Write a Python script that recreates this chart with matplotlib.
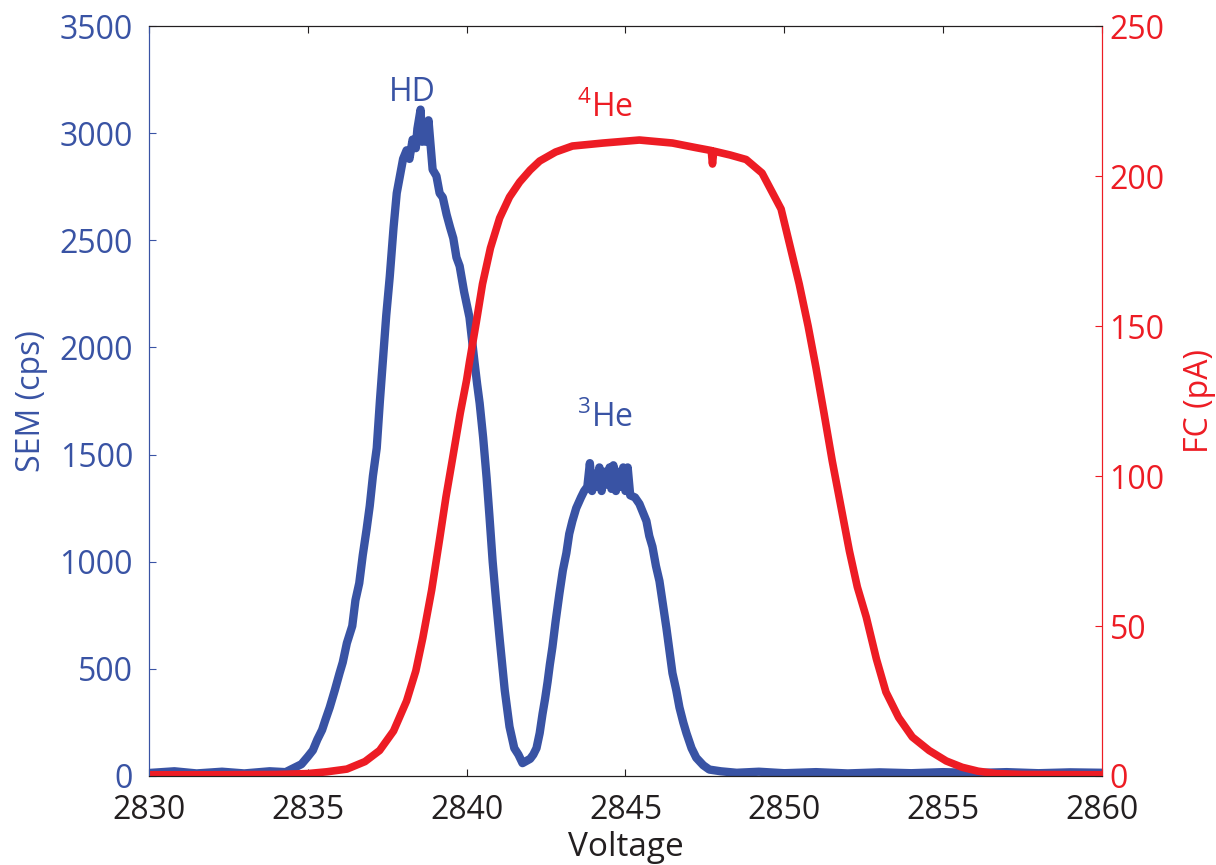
import matplotlib
matplotlib.use("Agg")
import matplotlib.pyplot as plt
import numpy as np

plt.rcParams["font.family"] = ["Open Sans", "DejaVu Sans"]
plt.rcParams["mathtext.fontset"] = "custom"
plt.rcParams["mathtext.rm"] = "Open Sans"

BLUE = "#3953a4"
RED = "#ed1c24"
DARK = "#231f20"

# SEM trace (voltage, counts per second)
sem_volt = [2830.0, 2830.8, 2831.5, 2832.3, 2833.0, 2833.8, 2834.3, 2834.6, 2834.8, 2835.0,
            2835.16, 2835.3, 2835.45, 2835.55, 2835.69, 2835.85, 2836.0, 2836.1, 2836.23, 2836.4,
            2836.5, 2836.62, 2836.73, 2836.85, 2836.95, 2837.05, 2837.17, 2837.27, 2837.36, 2837.47,
            2837.58, 2837.7, 2837.8, 2837.9, 2838.0, 2838.11, 2838.2, 2838.3, 2838.4, 2838.45,
            2838.55, 2838.6, 2838.66, 2838.72, 2838.8, 2838.93, 2839.05, 2839.15, 2839.25, 2839.37,
            2839.48, 2839.58, 2839.68, 2839.78, 2839.92, 2840.09, 2840.18, 2840.25, 2840.33, 2840.41,
            2840.52, 2840.63, 2840.72, 2840.82, 2840.92, 2841.04, 2841.2, 2841.35, 2841.5, 2841.63,
            2841.76, 2841.88, 2842.0, 2842.1, 2842.2, 2842.3, 2842.39, 2842.47, 2842.55, 2842.62,
            2842.7, 2842.8, 2842.92, 2843.03, 2843.14, 2843.23, 2843.33, 2843.45, 2843.6, 2843.7,
            2843.8, 2843.88, 2843.95, 2844.03, 2844.1, 2844.18, 2844.25, 2844.33, 2844.4, 2844.5,
            2844.56, 2844.62, 2844.7, 2844.78, 2844.85, 2844.93, 2845.0, 2845.07, 2845.15, 2845.3,
            2845.44, 2845.55, 2845.66, 2845.75, 2845.85, 2845.96, 2846.07, 2846.18, 2846.29, 2846.38,
            2846.48, 2846.6, 2846.7, 2846.82, 2846.92, 2847.08, 2847.23, 2847.45, 2847.64, 2848.0,
            2848.5, 2849.2, 2850.0, 2851.0, 2852.0, 2853.0, 2854.0, 2855.0, 2856.0, 2857.0,
            2858.0, 2859.0, 2860.0]
sem_cps = [14, 22, 12, 20, 12, 22, 18, 40, 55, 90,
           120, 170, 215, 260, 320, 400, 480, 530, 620, 700,
           820, 900, 1030, 1150, 1260, 1400, 1530, 1750, 1930, 2150,
           2330, 2560, 2720, 2800, 2880, 2920, 2880, 2970, 2930, 3020,
           3110, 2960, 3040, 2960, 3060, 2830, 2800, 2720, 2700, 2620,
           2560, 2510, 2420, 2380, 2260, 2140, 2020, 1930, 1830, 1740,
           1580, 1390, 1210, 1000, 830, 640, 400, 230, 130, 100,
           60, 70, 80, 100, 130, 200, 290, 360, 440, 520,
           600, 720, 850, 960, 1040, 1130, 1190, 1250, 1300, 1330,
           1350, 1460, 1330, 1410, 1350, 1440, 1330, 1420, 1360, 1440,
           1340, 1450, 1330, 1420, 1350, 1440, 1330, 1440, 1310, 1300,
           1270, 1230, 1190, 1120, 1070, 980, 910, 800, 690, 590,
           480, 400, 320, 250, 200, 130, 85, 50, 30, 22,
           15, 20, 13, 18, 12, 17, 13, 18, 14, 18,
           13, 17, 15]

# Faraday cup trace (voltage, pA)
fc_volt = [2830.0, 2832.0, 2834.0, 2835.0, 2835.6, 2836.23, 2836.8, 2837.26, 2837.7, 2838.11,
           2838.4, 2838.62, 2838.9, 2839.15, 2839.35, 2839.56, 2839.8, 2840.0, 2840.09, 2840.3,
           2840.5, 2840.75, 2841.04, 2841.35, 2841.67, 2842.0, 2842.3, 2842.8, 2843.33, 2844.3,
           2845.44, 2846.48, 2847.2, 2847.7, 2847.74, 2847.78, 2848.3, 2848.8, 2849.3, 2849.9,
           2850.47, 2850.75, 2851.0, 2851.25, 2851.51, 2851.78, 2852.05, 2852.3, 2852.58, 2852.9,
           2853.2, 2853.6, 2854.03, 2854.56, 2855.1, 2855.6, 2856.1, 2856.67, 2857.5, 2860.0]
fc_pa = [0.4, 0.4, 0.5, 0.8, 1.4, 2.3, 4.8, 8.5, 15, 25,
         35, 46, 62, 79, 93, 106, 121, 132, 138, 151,
         164, 176, 186, 193, 198, 202, 205, 208, 210, 211,
         212, 211, 209.5, 208.5, 204, 208.3, 207, 205.5, 201, 189,
         164, 150, 136, 121, 105, 90, 75, 63, 53, 39,
         28, 19.5, 13, 8.5, 5, 2.9, 1.6, 0.8, 0.5, 0.4]

sem_ticks = np.arange(0, 3501, 500)
fc_ticks = np.arange(0, 251, 50)
volt_ticks = np.arange(2830, 2861, 5)

fig = plt.figure(figsize=(12.16, 8.65), dpi=100)
ax = fig.add_axes([0.1225, 0.1029, 0.7837, 0.8670])
ax2 = ax.twinx()

ax.plot(sem_volt, sem_cps, color=BLUE, lw=6)
ax2.plot(fc_volt, fc_pa, color=RED, lw=5.5)

ax.set_xlim(2830, 2860)
ax.set_ylim(0, 3500)
ax2.set_ylim(0, 250)
ax.set_xticks(volt_ticks)
ax.set_yticks(sem_ticks)
ax2.set_yticks(fc_ticks)

ax.tick_params(axis="x", direction="in", length=5, top=True, labelsize=23, pad=13, colors=DARK)
ax.tick_params(axis="y", direction="in", length=5, labelsize=23, pad=11.5, colors=BLUE)
ax2.tick_params(axis="y", direction="in", length=5, labelsize=23, pad=5.5, colors=RED)

for a in (ax, ax2):
    a.spines["top"].set_color(DARK)
    a.spines["bottom"].set_color(DARK)
    a.spines["left"].set_color(BLUE)
    a.spines["right"].set_color(RED)

ax.set_xlabel("Voltage", fontsize=24, color=DARK, labelpad=3)
ax.set_ylabel("SEM (cps)", fontsize=23, color=BLUE, labelpad=8)
ax2.set_ylabel("FC (pA)", fontsize=23, color=RED, labelpad=13)

ax.text(2838.3, 3192, "HD", fontsize=23, color=BLUE, ha="center", va="center")
ax.text(2844.35, 1670, r"$\mathregular{^{3}He}$", fontsize=23, color=BLUE, ha="center", va="center")
ax2.text(2844.35, 222.5, r"$\mathregular{^{4}He}$", fontsize=23, color=RED, ha="center", va="center")

fig.savefig("out.png", dpi=100)
